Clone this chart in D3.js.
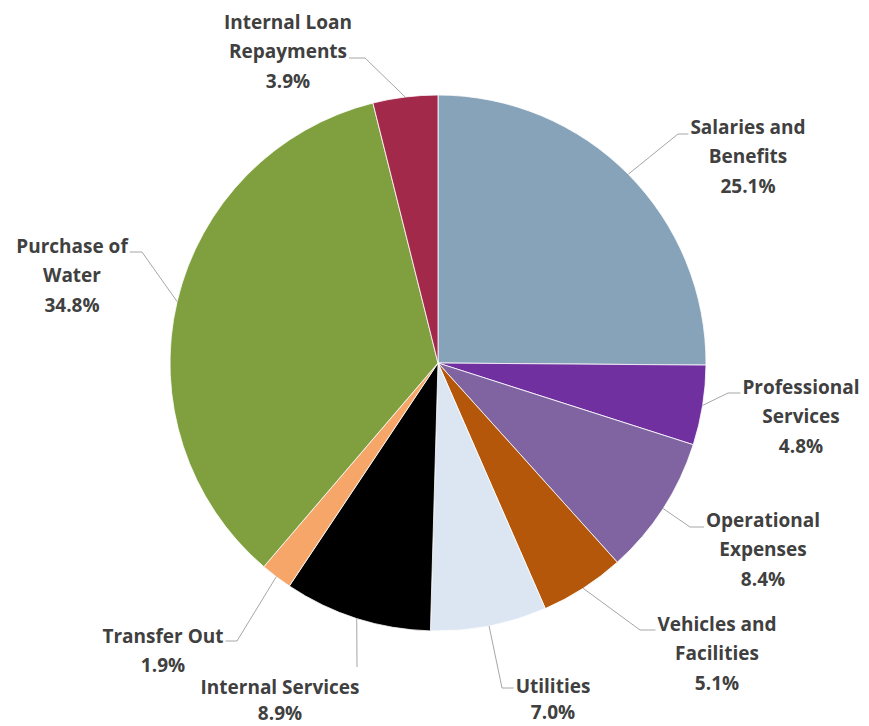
<!DOCTYPE html>
<html>
<head>
<meta charset="utf-8">
<script src="https://cdn.jsdelivr.net/npm/d3@7"></script>
<style>
  html, body { margin: 0; padding: 0; background: #fff; }
  svg { display: block; }
</style>
</head>
<body>
<svg id="chart" width="869" height="726"></svg>
<script>
// ---- data ----
const categories = [
  "Salaries and Benefits", "Professional Services", "Operational Expenses",
  "Vehicles and Facilities", "Utilities", "Internal Services",
  "Transfer Out", "Purchase of Water", "Internal Loan Repayments"
];
const values = [25.1, 4.8, 8.4, 5.1, 7.0, 8.9, 1.9, 34.8, 3.9];
const colors = ["#87a3b9", "#7030a0", "#8064a2", "#b5570a", "#dce6f2",
                "#000000", "#f7a66a", "#80a040", "#a3294a"];
const labelLines = [
  ["Salaries and", "Benefits"], ["Professional", "Services"],
  ["Operational", "Expenses"], ["Vehicles and", "Facilities"],
  ["Utilities"], ["Internal Services"], ["Transfer Out"],
  ["Purchase of", "Water"], ["Internal Loan", "Repayments"]
];

// ---- layout (label placement, px) ----
const labelLayout = [
  { cx: 748, y: 127, elbow: [678, 134], side: "left" },
  { cx: 801, y: 387, elbow: [728, 393], side: "left" },
  { cx: 763, y: 520, elbow: [690, 527], side: "left" },
  { cx: 717, y: 624, elbow: [640, 630], side: "left" },
  { cx: 553, y: 686, elbow: [502, 688], side: "left", lh: 26.5 },
  { cx: 280, y: 687, elbow: [357, 667], side: "none", lh: 26.5 },
  { cx: 163, y: 636, elbow: [237, 641], side: "right" },
  { cx: 72,  y: 246, elbow: [142, 252], side: "right" },
  { cx: 288, y: 22,  elbow: [365, 58],  side: "right", lineIdx: 1 }
];

const svg = d3.select("#chart");
const cx = 438, cy = 363, R = 268;
const lineH = 29.5;
const fontSize = 19;

const pie = d3.pie().sort(null).value(d => d)(values);
const arc = d3.arc().innerRadius(0).outerRadius(R);

const g = svg.append("g").attr("transform", `translate(${cx},${cy})`);
g.selectAll("path").data(pie).join("path")
  .attr("d", arc)
  .attr("fill", (d, i) => colors[i])
  .attr("stroke", "#ffffff")
  .attr("stroke-width", 0.8);

const measure = svg.append("text")
  .attr("font-family", "'Open Sans', sans-serif")
  .attr("font-weight", "bold")
  .attr("font-size", fontSize)
  .attr("visibility", "hidden");

pie.forEach((d, i) => {
  const L = labelLayout[i];
  const lh = L.lh || lineH;
  const lines = labelLines[i].concat([values[i].toFixed(1) + "%"]);
  const t = svg.append("text")
    .attr("font-family", "'Open Sans', sans-serif")
    .attr("font-weight", "bold")
    .attr("font-size", fontSize)
    .attr("fill", "#404040")
    .attr("text-anchor", "middle");
  lines.forEach((s, k) => {
    t.append("tspan").attr("x", L.cx).attr("y", L.y + k * lh)
      .attr("dy", "0.35em").text(s);
  });

  // leader line
  const mid = (d.startAngle + d.endAngle) / 2;
  const sx = cx + R * Math.sin(mid), sy = cy - R * Math.cos(mid);
  const pts = [[sx, sy], L.elbow];
  if (L.side !== "none") {
    const idx = L.lineIdx || 0;
    measure.text(lines[idx]);
    const w = measure.node().getComputedTextLength();
    const ex = L.side === "left" ? L.cx - w / 2 - 2 : L.cx + w / 2 + 2;
    pts.push([ex, L.elbow[1]]);
  }
  svg.append("path")
    .attr("d", d3.line()(pts))
    .attr("fill", "none")
    .attr("stroke", "#a6a6a6")
    .attr("stroke-width", 1);
});
measure.remove();
</script>
</body>
</html>
